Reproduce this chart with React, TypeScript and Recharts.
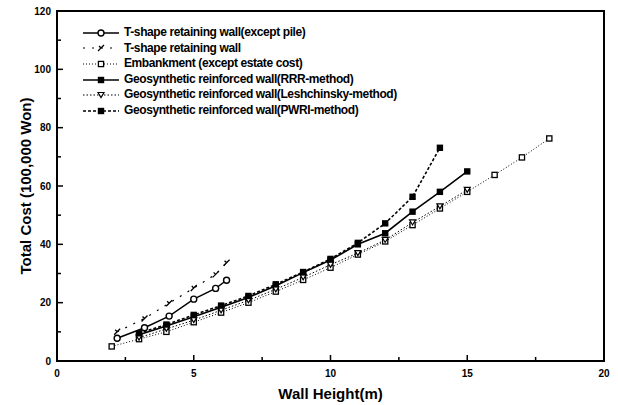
import React from 'react';
import {
  LineChart, Line, XAxis, YAxis, ReferenceArea, Legend,
} from 'recharts';

// wall heights (m)
const tshapeX = [2.2, 3.2, 4.1, 5.0, 5.8, 6.2];
const embankX = [2, 3, 4, 5, 6, 7, 8, 9, 10, 11, 12, 13, 14, 15, 16, 17, 18];
const geoX = [3, 4, 5, 6, 7, 8, 9, 10, 11, 12, 13, 14, 15];
const pwriX = [3, 4, 5, 6, 7, 8, 9, 10, 11, 12, 13, 14];

// total cost (100,000 Won)
const tshapeExceptPile = [7.8, 11.4, 15.4, 21.2, 24.9, 27.7];
const tshapeWall = [10, 14.6, 19.8, 25, 29.7, 33.7];
const embankment = [5, 7.5, 10, 13.3, 16.6, 20, 23.8, 27.8, 32, 36.5, 41, 46.6, 52.3, 58, 63.8, 69.8, 76.3];
const rrr = [9, 12, 15.2, 18.4, 21.8, 25.8, 30.3, 34.6, 40, 43.8, 51.2, 58, 65];
const leshchinsky = [8, 11, 14, 17.4, 20.8, 24.6, 28.7, 33, 37, 41.5, 47.5, 53, 58.7];
const pwri = [9.5, 12.5, 15.8, 19, 22.3, 26.3, 30.5, 35, 40.5, 47.2, 56.3, 73.1];

const xTicks = [0, 2.5, 5, 7.5, 10, 12.5, 15, 17.5, 20];
const yTicks = [0, 10, 20, 30, 40, 50, 60, 70, 80, 90, 100, 110, 120];

const FONT = '"Liberation Sans", Arial, sans-serif';

const pts = (xs: number[], ys: number[]) => xs.map((x, i) => ({ x, y: ys[i] }));

type MarkerKind = 'circle' | 'slash' | 'openSquare' | 'square' | 'triangle';

function Marker({ kind, cx, cy }: { kind: MarkerKind; cx: number; cy: number }) {
  const t = `translate(${cx},${cy})`;
  switch (kind) {
    case 'circle':
      return <circle cx={cx} cy={cy} r={3} fill="#fff" stroke="#000" strokeWidth={1.4} />;
    case 'slash':
      return <path transform={t} d="M-3,3 L3,-3 M-2,-2 L0,0" stroke="#000" strokeWidth={1.3} fill="none" />;
    case 'openSquare':
      return <rect x={cx - 2.6} y={cy - 2.6} width={5.2} height={5.2} fill="#fff" stroke="#000" strokeWidth={1.3} />;
    case 'square':
      return <rect x={cx - 3.2} y={cy - 3.2} width={6.4} height={6.4} fill="#000" />;
    case 'triangle':
      return <path transform={t} d="M-3,-2.5 L3,-2.5 L0,2.5 Z" fill="#fff" stroke="#000" strokeWidth={1.2} />;
  }
  return null;
}

const SERIES = [
  { name: 'T-shape retaining wall(except pile)', data: pts(tshapeX, tshapeExceptPile), marker: 'circle' as MarkerKind, dash: undefined, width: 1.4 },
  { name: 'T-shape retaining wall', data: pts(tshapeX, tshapeWall), marker: 'slash' as MarkerKind, dash: '2 7', width: 1.2 },
  { name: 'Embankment (except estate cost)', data: pts(embankX, embankment), marker: 'openSquare' as MarkerKind, dash: '1 2', width: 1 },
  { name: 'Geosynthetic reinforced wall(RRR-method)', data: pts(geoX, rrr), marker: 'square' as MarkerKind, dash: undefined, width: 1.6 },
  { name: 'Geosynthetic reinforced wall(Leshchinsky-method)', data: pts(geoX, leshchinsky), marker: 'triangle' as MarkerKind, dash: '1.5 2', width: 1 },
  { name: 'Geosynthetic reinforced wall(PWRI-method)', data: pts(pwriX, pwri), marker: 'square' as MarkerKind, dash: '3 2', width: 1.6 },
];

function XTick({ x, y, payload }: any) {
  const major = payload.value % 5 === 0;
  return (
    <g>
      <line x1={x} x2={x} y1={y} y2={y - (major ? 6 : 4)} stroke="#000" strokeWidth={1.5} />
      {major && (
        <text x={x} y={y + 16} textAnchor="middle" fontSize={10} fontWeight={700} fontFamily={FONT} fill="#000">
          {payload.value}
        </text>
      )}
    </g>
  );
}

function YTick({ x, y, payload }: any) {
  const major = payload.value % 20 === 0;
  return (
    <g>
      <line x1={x} x2={x + (major ? 6 : 4)} y1={y} y2={y} stroke="#000" strokeWidth={1.5} />
      {major && (
        <text x={x - 6} y={y + 3.5} textAnchor="end" fontSize={10} fontWeight={700} fontFamily={FONT} fill="#000">
          {payload.value}
        </text>
      )}
    </g>
  );
}

function LegendBox() {
  return (
    <div style={{ fontFamily: FONT, fontSize: 12, fontWeight: 700, color: '#000', lineHeight: '15.6px' }}>
      {SERIES.map(s => (
        <div key={s.name} style={{ display: 'flex', alignItems: 'center', height: 15.6, whiteSpace: 'nowrap' }}>
          <svg width={38} height={10} style={{ marginRight: 3 }}>
            <line x1={0} x2={36} y1={5} y2={5} stroke="#000" strokeWidth={s.width} strokeDasharray={s.dash} />
            <Marker kind={s.marker} cx={18} cy={5} />
          </svg>
          <span style={{ letterSpacing: -0.4 }}>{s.name}</span>
        </div>
      ))}
    </div>
  );
}

export default function App() {
  return (
    <div style={{ position: 'absolute', left: 0, top: 0, width: 618, height: 405, background: '#fff' }}>
      <LineChart width={618} height={405} margin={{ top: 11, right: 14, bottom: 0, left: 0 }}>
        <XAxis
          type="number"
          dataKey="x"
          domain={[0, 20]}
          ticks={xTicks}
          interval={0}
          tick={<XTick />}
          tickLine={false}
          tickSize={0}
          tickMargin={0}
          axisLine={false}
          height={44}
          allowDuplicatedCategory={false}
          label={{
            content: ({ viewBox }: any) => (
              <text x={viewBox.x + viewBox.width / 2} y={viewBox.y + 38} textAnchor="middle"
                fontSize={15} fontWeight={700} fontFamily={FONT} fill="#000">
                Wall Height(m)
              </text>
            ),
          }}
        />
        <YAxis
          type="number"
          dataKey="y"
          domain={[0, 120]}
          ticks={yTicks}
          interval={0}
          tick={<YTick />}
          tickLine={false}
          tickSize={0}
          tickMargin={0}
          axisLine={false}
          width={57}
          label={{
            content: ({ viewBox }: any) => {
              const cy = viewBox.y + viewBox.height / 2;
              return (
                <text x={25} y={cy} transform={`rotate(-90, 25, ${cy})`} textAnchor="middle"
                  dominantBaseline="central" fontSize={15} fontWeight={700} fontFamily={FONT} fill="#000">
                  Total Cost (100,000 Won)
                </text>
              );
            },
          }}
        />
        <ReferenceArea x1={0} x2={20} y1={0} y2={120} fill="none" stroke="#000" strokeWidth={2} />
        <Legend
          layout="vertical"
          align="center"
          verticalAlign="middle"
          content={<LegendBox />}
          wrapperStyle={{ left: 83, top: 25, width: 360 }}
        />
        {SERIES.map(s => (
          <Line
            key={s.name}
            name={s.name}
            data={s.data}
            dataKey="y"
            type="linear"
            stroke="#000"
            strokeWidth={s.width}
            strokeDasharray={s.dash}
            isAnimationActive={false}
            dot={(p: any) => <Marker key={`${s.name}-${p.index}`} kind={s.marker} cx={p.cx} cy={p.cy} />}
            activeDot={false}
          />
        ))}
      </LineChart>
    </div>
  );
}
